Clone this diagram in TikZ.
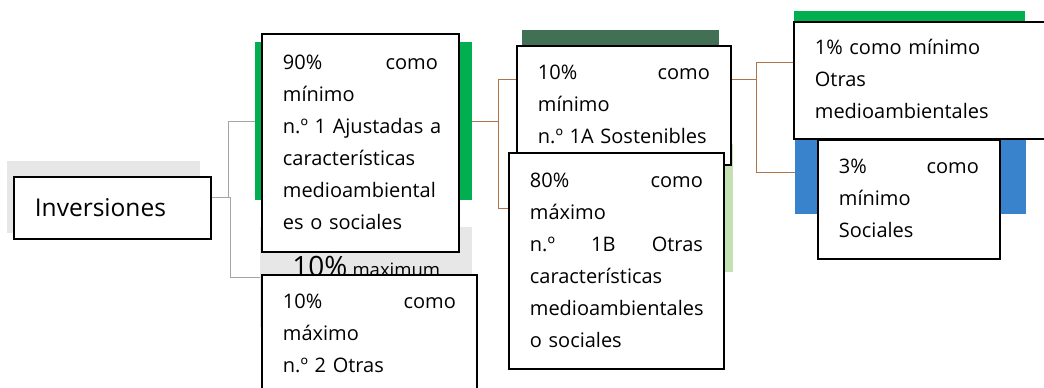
\documentclass[tikz,border=0pt]{standalone}
\usepackage{fontspec}
\setmainfont{Open Sans}
\usepackage{tikz}

\definecolor{bandgrey}{RGB}{231,231,231}
\definecolor{bandgreen}{RGB}{0,176,80}
\definecolor{banddark}{RGB}{66,112,84}
\definecolor{bandlight}{RGB}{197,224,180}
\definecolor{bandblue}{RGB}{56,131,204}
\definecolor{linkgrey}{RGB}{165,165,165}
\definecolor{linkbrown}{RGB}{176,116,76}

\hyphenpenalty=10000

\begin{document}
\begin{tikzpicture}[x = 1pt, y = -1pt,
                    font = \fontsize{20}{32}\selectfont,
                    box/.style = {draw, line width = 1.8pt, fill = white, anchor = north west,
                                  align = left, inner xsep = 21pt},
                    band/.style = {fill = #1, anchor = north west, inner sep = 0pt},
                    greylink/.style = {draw = linkgrey, line width = 1.3pt},
                    brownlink/.style = {draw = linkbrown, line width = 1.3pt}]

\useasboundingbox (0,0) rectangle (1044,388);
\clip (0,0) rectangle (1044,388);

% coloured bands behind the boxes
\node [band = bandgrey, minimum width = 193pt, minimum height = 72pt] (G0) at (7,161) {};
\node [band = bandgreen, minimum width = 217pt, minimum height = 158pt] (G1) at (255,42) {};
\node [band = bandgrey, minimum width = 212pt, minimum height = 100pt,
       text height = 20pt, text depth = 22pt] (G2) at (260,227)
      {{\fontsize{28}{28}\selectfont 10\%} {\fontsize{18.5}{20}\selectfont maximum}};
\node [band = banddark, minimum width = 197pt, minimum height = 98pt] (G1A) at (522,30) {};
\node [band = bandlight, minimum width = 211pt, minimum height = 128pt] (G1B) at (522,144) {};
\node [band = bandgreen, minimum width = 231pt, minimum height = 102pt] (G1P) at (794,11) {};
\node [band = bandblue, minimum width = 231pt, minimum height = 84pt] (G3P) at (795,130) {};

% connectors
\draw [greylink] (G0.east) -- ++(28,0) |- (G1.west);
\draw [greylink] (G0.east) -- ++(30,0) |- (G2.west);
\draw [brownlink] (G1.east) -- ++(26,0) |- (G1A.west);
\draw [brownlink] (G1.east) -- ++(26,0) |- (G1B.west);
\draw [brownlink] (G1A.east) -- ++(37,0) |- (G1P.west);
\draw [brownlink] (G1A.east) -- ++(37,0) |- (G3P.west);

% boxes
\node [box, text width = 155pt, minimum height = 62pt, inner ysep = 0pt,
       font = \fontsize{24.5}{30}\selectfont] (INV) at (13,176) {Inversiones};

\node [box, text width = 155pt, inner ysep = 13pt] (B1) at (261,33)
      {\strut 90\%\hfill como\\ mínimo\\ \mbox{n.º 1 Ajustadas a}\\ características\\
       \mbox{medioambiental}\\ es o sociales\strut};

\node [box, text width = 173pt, inner ysep = 11.6pt] (B2) at (261,274)
      {\strut 10\%\hfill como\\ máximo\\ n.º 2 Otras\strut};

\node [box, text width = 172pt, inner ysep = 11.6pt] (B1A) at (516,45)
      {\strut 10\%\hfill como\\ mínimo\\ \mbox{n.º 1A Sostenibles}\strut};

\node [box, text width = 173pt, inner ysep = 12pt] (B1B) at (508,152)
      {\strut 80\%\hfill como\\ máximo\\ n.º\hfill 1B\hfill Otras\\ características\\
       \mbox{medioambientales}\\ o sociales\strut};

\node [box, text width = 238pt, inner ysep = 10.6pt] (B1P) at (793,21)
      {\strut 1\% como mínimo\\ Otras\\ medioambientales\strut};

\node [box, text width = 140pt, inner ysep = 11.6pt] (B3P) at (817,139)
      {\strut 3\%\hfill como\\ mínimo\\ Sociales\strut};
\end{tikzpicture}
\end{document}
